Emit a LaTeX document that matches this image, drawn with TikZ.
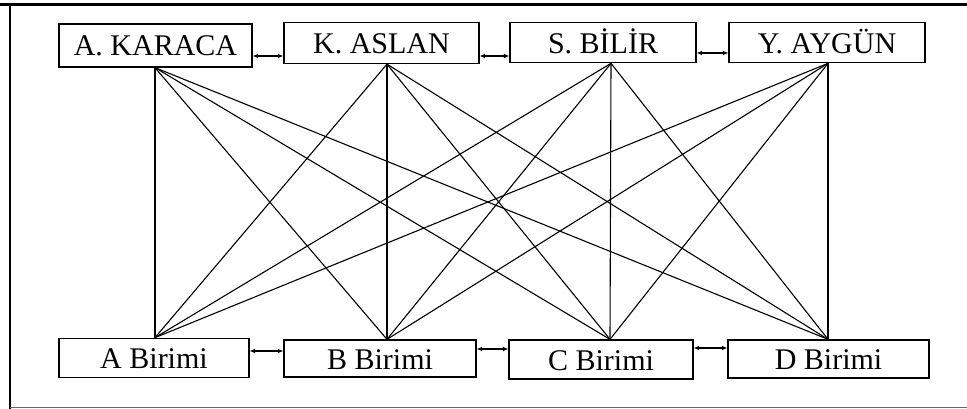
\documentclass[tikz,border=0pt]{standalone}
\usepackage{fontspec}
\setmainfont{Liberation Serif}
\usetikzlibrary{arrows.meta}
\begin{document}
\begin{tikzpicture}[x=1pt,y=-1pt,
  person/.style={draw,line width=1.3pt,inner sep=0pt,text height=21pt,text depth=0pt,
    font=\fontsize{30}{30}\selectfont},
  link/.style={line width=1.1pt},
  both/.style={line width=1.1pt,{Latex[length=5.5pt,width=5pt]}-{Latex[length=5.5pt,width=5pt]}}]
\useasboundingbox (0,0) rectangle (967,409);
% frame
\draw[line width=3pt] (0,5) -- (967,5);
\draw[line width=2.6pt] (10,5) -- (10,409);
\draw[line width=1pt,black!60] (10,407.5) -- (967,407.5);
% people
\node[person,minimum width=193pt,minimum height=43pt] (kar) at (155.5,45.5) {A. KARACA};
\node[person,minimum width=195pt,minimum height=41pt] (asl) at (381.5,43) {K. ASLAN};
\node[person,minimum width=186pt,minimum height=40pt] (bil) at (603,42.7) {S. BİLİR};
\node[person,minimum width=196pt,minimum height=40pt] (ayg) at (827,42.7) {Y. AYGÜN};
% units
\node[person,minimum width=190pt,minimum height=39pt] (ua) at (154,357.8) {A Birimi};
\node[person,minimum width=192pt,minimum height=37pt] (ub) at (380,358.5) {B Birimi};
\node[person,minimum width=184pt,minimum height=39pt] (uc) at (601,359.5) {C Birimi};
\node[person,minimum width=201pt,minimum height=38pt] (ud) at (828.5,359) {D Birimi};
% attachment points
\path (kar.south) ++(-0.5,0) coordinate (t1);
\path (asl.south) ++(5.5,0) coordinate (t2);
\path (bil.south) ++(8,0) coordinate (t3);
\path (ayg.south) ++(1,0) coordinate (t4);
\path (ua.north) ++(1,0) coordinate (b1);
\path (ub.north) ++(7,0) coordinate (b2);
\path (uc.north) ++(9,0) coordinate (b3);
\path (ud.north) ++(-0.5,0) coordinate (b4);
% every person linked to every unit
\foreach \t in {t1,t2,t3,t4}{
  \foreach \b in {b1,b2,b3,b4}{
    \draw[link] (\t) -- (\b);
  }
}
% neighbour arrows
\draw[both] (kar.east |- 0,56) -- (asl.west |- 0,56);
\draw[both] (asl.east |- 0,56) -- (bil.west |- 0,56);
\draw[both] (bil.east |- 0,53) -- (ayg.west |- 0,53);
\draw[both] (ua.east |- 0,351) -- (ub.west |- 0,351);
\draw[both] (ub.east |- 0,349) -- (uc.west |- 0,349);
\draw[both] (uc.east |- 0,348) -- (ud.west |- 0,348);
\end{tikzpicture}
\end{document}
